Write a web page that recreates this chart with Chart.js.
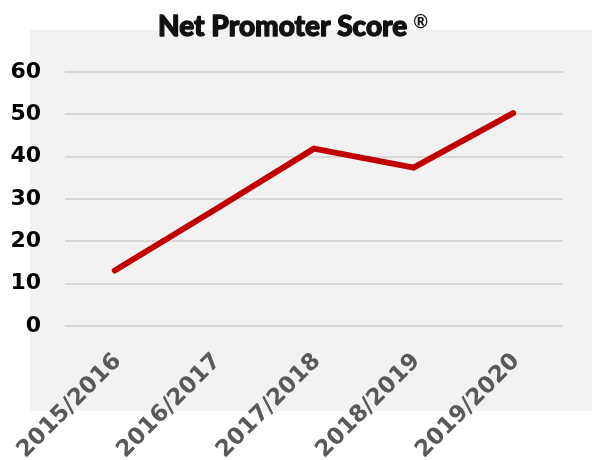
<!DOCTYPE html>
<html>
<head>
<meta charset="utf-8">
<script src="https://cdn.jsdelivr.net/npm/chart.js@4.4.1/dist/chart.umd.min.js"></script>
<style>
  html, body { margin: 0; padding: 0; background: #ffffff; }
  #wrap { width: 592px; height: 460px; position: relative; }
</style>
</head>
<body>
<div id="wrap"><canvas id="c" width="592" height="460"></canvas></div>
<script>
// ---- data ----
const categories = ['2015/2016', '2016/2017', '2017/2018', '2018/2019', '2019/2020'];
const npsValues = [13.1, 27.4, 41.9, 37.4, 50.3];
const yTicks = [0, 10, 20, 30, 40, 50, 60];
const chartTitle = 'Net Promoter Score';
const titleMark = '\u00AE';

const bgPlugin = {
  id: 'panelBg',
  beforeDraw(chart) {
    const ctx = chart.ctx;
    ctx.save();
    ctx.fillStyle = '#f2f2f2';
    ctx.fillRect(30, 30, 562, 381);
    ctx.restore();
  },
  afterDraw(chart) {
    const ctx = chart.ctx;
    ctx.save();
    ctx.fillStyle = '#111111';
    ctx.strokeStyle = '#111111';
    ctx.lineWidth = 1.3;
    ctx.lineJoin = 'round';
    ctx.font = '900 28px Lato';
    ctx.textAlign = 'left';
    ctx.textBaseline = 'alphabetic';
    ctx.fillText(chartTitle, 158, 36);
    ctx.strokeText(chartTitle, 158, 36);
    const w = ctx.measureText(chartTitle).width;
    ctx.font = '700 18px Lato';
    ctx.textBaseline = 'top';
    ctx.fillText(titleMark, 158 + w + 6, 13);
    ctx.restore();
  }
};

new Chart(document.getElementById('c'), {
  type: 'line',
  data: {
    labels: categories,
    datasets: [{
      data: npsValues,
      borderColor: '#c00000',
      borderWidth: 6,
      borderCapStyle: 'round',
      borderJoinStyle: 'round',
      pointRadius: 0,
      pointHoverRadius: 0,
      tension: 0,
      fill: false
    }]
  },
  options: {
    responsive: false,
    animation: false,
    events: [],
    layout: { padding: { left: 0, right: 29, top: 72, bottom: 0 } },
    plugins: {
      legend: { display: false },
      title: { display: false },
      tooltip: { enabled: false }
    },
    scales: {
      x: {
        type: 'category',
        offset: true,
        grid: { display: false },
        border: { display: false },
        afterFit(scale) {
          scale.height = 134;
          scale.paddingLeft = 0;
          scale.paddingRight = 0;
        },
        ticks: {
          autoSkip: false,
          minRotation: 45,
          maxRotation: 45,
          padding: 14,
          labelOffset: 3,
          color: '#595959',
          font: { family: 'DejaVu Sans', weight: 'bold', size: 23 }
        }
      },
      y: {
        min: 0,
        max: 60,
        afterBuildTicks(scale) {
          scale.ticks = yTicks.map(v => ({ value: v }));
        },
        afterFit(scale) { scale.width = 65; },
        grid: { color: '#d9d9d9', lineWidth: 2, drawTicks: false },
        border: { display: false },
        ticks: {
          padding: 24,
          color: '#000000',
          font: { family: 'DejaVu Sans', weight: 'bold', size: 22 }
        }
      }
    }
  },
  plugins: [bgPlugin]
});
</script>
</body>
</html>
